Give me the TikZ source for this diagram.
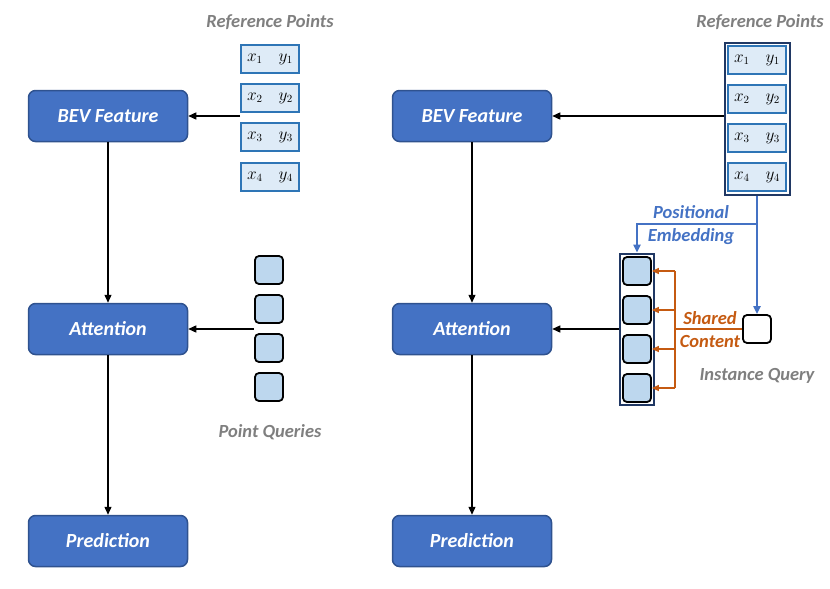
\documentclass[tikz,border=0pt]{standalone}
\usepackage[no-math]{fontspec}
\setmainfont{Carlito}
\usepackage{tikz}
\usetikzlibrary{positioning,arrows.meta,fit,calc}
\definecolor{cBlock}{HTML}{4472C4}
\definecolor{cBlockLine}{HTML}{2F528F}
\definecolor{cRef}{HTML}{DEEBF7}
\definecolor{cRefLine}{HTML}{2E75B6}
\definecolor{cQuery}{HTML}{BDD7EE}
\definecolor{cFrame}{HTML}{203864}
\definecolor{cGray}{HTML}{7F7F7F}
\definecolor{cPos}{HTML}{4472C4}
\definecolor{cShare}{HTML}{C55A11}

\begin{document}
\begin{tikzpicture}[x=1pt,y=-1pt,
    block/.style={draw=cBlockLine,fill=cBlock,rounded corners=7pt,line width=1.5pt,
      minimum width=159pt,minimum height=51pt,text=white,
      font=\fontsize{20}{24}\selectfont\bfseries\itshape},
    refbox/.style={draw=cRefLine,fill=cRef,line width=2pt,minimum width=58pt,minimum height=28pt,
      font=\fontsize{16}{18}\selectfont},
    qbox/.style={draw=black,fill=cQuery,rounded corners=4pt,line width=1.8pt,minimum size=28pt},
    frame/.style={draw=cFrame,line width=2pt,inner sep=2.5pt},
    tag/.style={text=cGray,font=\fontsize{18.5}{22}\selectfont\bfseries\itshape},
    arr/.style={-{Triangle[length=8pt,width=7pt]},line width=1.3pt},
    posarr/.style={cPos,line width=2pt,-{Triangle[length=8pt,width=7pt]}},
    sharearr/.style={cShare,line width=1.5pt,-{Triangle[length=7pt,width=6pt]}}]
  \useasboundingbox (0,0) rectangle (830,589);
  % left: point queries
  \node[block] (bevL) at (108,116) {BEV Feature};
  \node[block] (attL) at (108,329) {Attention};
  \node[block] (preL) at (108,541) {Prediction};
  \node[tag] (refLabL) at (270,22) {Reference Points};
  \foreach \i/\y in {1/59,2/98,3/137,4/177}
    \node[refbox] (rL\i) at (270,\y) {$x_\i\quad y_\i$};
  \foreach \i/\y in {1/270,2/309,3/348,4/387}
    \node[qbox] (qL\i) at (269,\y) {};
  \node[tag] (qLabL) at (270,432) {Point Queries};
  \draw[arr] (rL2.west |- bevL.east) -- (bevL.east);
  \draw[arr] (qL1.west |- attL.east) -- (attL.east);
  \draw[arr] (bevL) -- (attL);
  \draw[arr] (attL) -- (preL);
  % right: instance query
  \node[block] (bevR) at (472,116) {BEV Feature};
  \node[block] (attR) at (472,329) {Attention};
  \node[block] (preR) at (472,541) {Prediction};
  \node[tag] (refLabR) at (760,22) {Reference Points};
  \foreach \i/\y in {1/60,2/99,3/138,4/177}
    \node[refbox] (rR\i) at (757,\y) {$x_\i\quad y_\i$};
  \node[frame,fit=(rR1)(rR4)] (refR) {};
  \foreach \i/\y in {1/271,2/310,3/349,4/388}
    \node[qbox] (qR\i) at (637,\y) {};
  \node[frame,fit=(qR1)(qR4)] (qR) {};
  \node[qbox,fill=white] (iq) at (757,329) {};
  \node[tag] (iqLab) at (757,376) {Instance Query};
  \draw[arr] (refR.west |- bevR.east) -- (bevR.east);
  \draw[arr] (qR.west |- attR.east) -- (attR.east);
  \draw[arr] (bevR) -- (attR);
  \draw[arr] (attR) -- (preR);
  \coordinate (pe) at ($(refR.south)+(0,28)$);
  \draw[posarr] (refR.south) -- (iq.north);
  \draw[posarr] (pe) -| (qR.north);
  \node[text=cPos,font=\fontsize{18.5}{23}\selectfont\bfseries\itshape,align=center] (peLab) at (691,225) {Positional\\Embedding};
  \coordinate (sc) at (675,329);
  \draw[cShare,line width=1.5pt] (iq.west) -- (sc);
  \draw[cShare,line width=1.5pt] (sc |- qR1) -- (sc |- qR4);
  \foreach \i in {1,...,4}
    \draw[sharearr] (sc |- qR\i) -- (qR\i.east);
  \node[text=cShare,font=\fontsize{18.5}{23}\selectfont\bfseries\itshape,align=center] (scLab) at (710,330) {Shared\\Content};
\end{tikzpicture}
\end{document}
